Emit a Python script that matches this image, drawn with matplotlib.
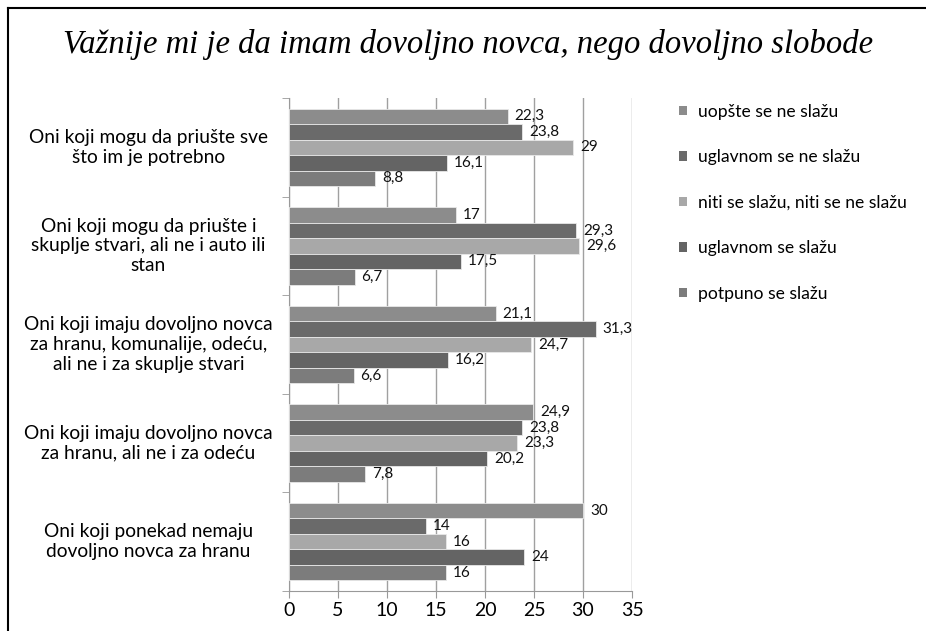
import numpy as np
import matplotlib.pyplot as plt
from matplotlib.lines import Line2D
from matplotlib.patches import Patch

categories = [
    "Oni koji mogu da priušte sve\nšto im je potrebno",
    "Oni koji mogu da priušte i\nskuplje stvari, ali ne i auto ili\nstan",
    "Oni koji imaju dovoljno novca\nza hranu, komunalije, odeću,\nali ne i za skuplje stvari",
    "Oni koji imaju dovoljno novca\nza hranu, ali ne i za odeću",
    "Oni koji ponekad nemaju\ndovoljno novca za hranu",
]
series_names = [
    "uopšte se ne slažu",
    "uglavnom se ne slažu",
    "niti se slažu, niti se ne slažu",
    "uglavnom se slažu",
    "potpuno se slažu",
]
uopste_ne = [22.3, 17, 21.1, 24.9, 30]
uglavnom_ne = [23.8, 29.3, 31.3, 23.8, 14]
niti = [29, 29.6, 24.7, 23.3, 16]
uglavnom_da = [16.1, 17.5, 16.2, 20.2, 24]
potpuno = [8.8, 6.7, 6.6, 7.8, 16]
colors = ["#8c8c8c", "#6a6a6a", "#a8a8a8", "#646464", "#7c7c7c"]

series = [uopste_ne, uglavnom_ne, niti, uglavnom_da, potpuno]
font = "Lato"

fig = plt.figure(figsize=(9.26, 6.31), dpi=100)
ax = fig.add_axes([289 / 926, 1 - 591 / 631, 343 / 926, 493 / 631])

n = len(series)
bar_h = 0.157
y0 = np.arange(len(categories))
for i, (vals, col) in enumerate(zip(series, colors)):
    y = y0 + (i - (n - 1) / 2) * bar_h
    ax.barh(y, vals, height=bar_h, color=col, edgecolor="#e8e8e8", linewidth=0.6,
            label=series_names[i], zorder=3)
    for yy, v in zip(y, vals):
        txt = f"{v:g}".replace(".", ",")
        ax.text(v + 0.7, yy, txt, va="center", ha="left", fontsize=11,
                family=font, color="#111111", zorder=4)

ax.set_xlim(0, 35)
ax.set_ylim(len(categories) - 0.5, -0.5)
ax.set_xticks(np.arange(0, 36, 5))
ax.tick_params(axis="x", labelsize=14, length=5, color="#999999", pad=3)
for lab in ax.get_xticklabels():
    lab.set_family(font)
ax.grid(axis="x", color="#a0a0a0", linewidth=1, zorder=0)

ax.set_yticks([])
ax.set_yticks(np.arange(-0.5, len(categories)), minor=True)
ax.tick_params(axis="y", which="minor", length=5, color="#999999", labelleft=False)
for yy, name in zip(y0, categories):
    ax.text(-0.41, yy, name, transform=ax.get_yaxis_transform(), ha="center",
            va="center", fontsize=13.8, family=font, linespacing=1.2)

for side in ["top", "right"]:
    ax.spines[side].set_visible(False)
ax.spines["left"].set_color("#999999")
ax.spines["bottom"].set_color("#999999")

handles = [Patch(facecolor=c) for c in colors]
fig.legend(handles, series_names, loc="upper left", bbox_to_anchor=(665 / 926, 1 - 90 / 631),
           frameon=False, prop={"family": font, "size": 12.6}, handlelength=0.45,
           handleheight=0.45, handletextpad=0.65, labelspacing=1.68, borderpad=0.3)

fig.text(0.505, 1 - 45 / 631, "Važnije mi je da imam dovoljno novca, nego dovoljno slobode",
         ha="center", va="center", fontsize=23.5, style="italic", family="Liberation Serif")

fig.add_artist(Line2D([8 / 926, 8 / 926], [-0.05, 1 - 8 / 631], transform=fig.transFigure,
                      color="black", linewidth=1.5))
fig.add_artist(Line2D([8 / 926, 1.05], [1 - 8 / 631, 1 - 8 / 631], transform=fig.transFigure,
                      color="black", linewidth=1.5))

fig.savefig("out.png", dpi=100)
